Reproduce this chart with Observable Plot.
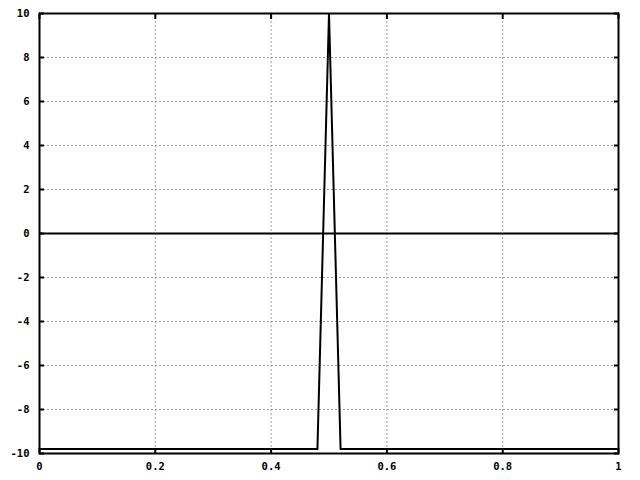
<!DOCTYPE html>
<html><head><meta charset="utf-8">
<script src="https://cdn.jsdelivr.net/npm/d3@7"></script>
<script src="https://cdn.jsdelivr.net/npm/@observablehq/plot@0.6"></script>
<style>body{margin:0;background:#fff} svg{display:block}</style>
</head><body><div id="chart"></div>
<script>
const xs = [0, 0.48, 0.5, 0.52, 1];
const ys = [-9.8, -9.8, 10, -9.8, -9.8];
const xTicks = [0, 0.2, 0.4, 0.6, 0.8, 1];
const xTickLabels = ["0", "0.2", "0.4", "0.6", "0.8", "1"];
const yTicks = [-10, -8, -6, -4, -2, 0, 2, 4, 6, 8, 10];
const yTickLabels = ["-10", "-8", "-6", "-4", "-2", "0", "2", "4", "6", "8", "10"];

const data = xs.map((x, i) => ({x, y: ys[i]}));
const xInner = xTicks.slice(1, -1);
const yInner = yTicks.filter(v => v !== -10 && v !== 10 && v !== 0);

const chart = Plot.plot({
  width: 640, height: 480,
  marginLeft: 39, marginRight: 22, marginTop: 13, marginBottom: 27,
  style: {fontFamily: "'DejaVu Sans Mono', monospace", fontSize: "10.5px", fontWeight: "bold", background: "#fff", color: "#000"},
  x: {domain: [0, 1], label: null},
  y: {domain: [-10, 10], label: null},
  marks: [
    Plot.gridX(xInner, {stroke: "#a0a0a0", strokeOpacity: 1, strokeDasharray: "2,2"}),
    Plot.gridY(yInner, {stroke: "#a0a0a0", strokeOpacity: 1, strokeDasharray: "2,2"}),
    Plot.ruleY([0], {stroke: "#000", strokeWidth: 2}),
    Plot.line(data, {x: "x", y: "y", stroke: "#000", strokeWidth: 2, clip: true}),
    Plot.axisX(xTicks, {anchor: "bottom", label: null, tickSize: 0, tickPadding: 9, tickFormat: d => xTickLabels[xTicks.indexOf(d)], fill: "#000"}),
    Plot.axisY(yTicks, {anchor: "left", label: null, tickSize: 0, tickPadding: 10, tickFormat: d => yTickLabels[yTicks.indexOf(d)], fill: "#000"}),
    Plot.axisX(xTicks, {anchor: "bottom", label: null, tickSize: -5, strokeWidth: 2, tickFormat: () => ""}),
    Plot.axisX(xTicks, {anchor: "top", label: null, tickSize: -5, strokeWidth: 2, tickFormat: () => ""}),
    Plot.axisY(yTicks, {anchor: "left", label: null, tickSize: -5, strokeWidth: 2, tickFormat: () => ""}),
    Plot.axisY(yTicks, {anchor: "right", label: null, tickSize: -5, strokeWidth: 2, tickFormat: () => ""}),
    Plot.frame({stroke: "#000", strokeWidth: 2})
  ]
});
document.getElementById("chart").append(chart);
</script>
</body></html>
